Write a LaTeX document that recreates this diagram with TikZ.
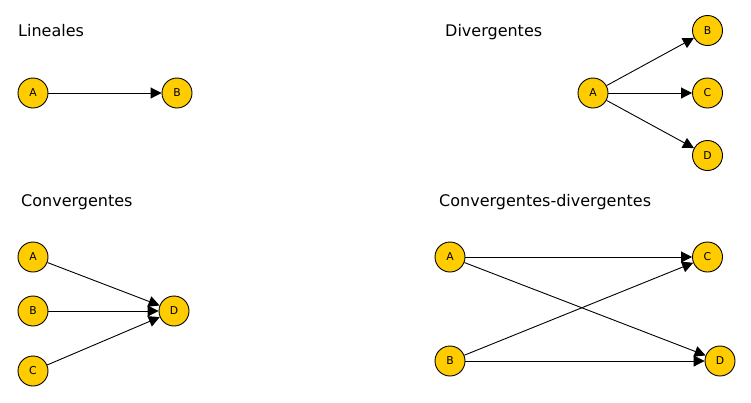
\documentclass[tikz,border=0pt]{standalone}
\usepackage{fontspec}
\setmainfont{DejaVu Sans}
\usetikzlibrary{arrows.meta}
\definecolor{nodeyellow}{RGB}{255,204,0}
\tikzset{
  vnode/.style={circle, draw=black, line width=0.9pt, fill=nodeyellow, minimum size=30pt, inner sep=0pt, font=\fontsize{10.8pt}{11pt}\selectfont},
  title/.style={anchor=base west, inner sep=0pt, font=\fontsize{16pt}{18pt}\selectfont},
  edge/.style={-{Triangle[length=11pt,width=11pt]}, line width=0.9pt}
}
\begin{document}
\begin{tikzpicture}[x=1pt,y=-1pt]
\useasboundingbox (0,0) rectangle (751,402);
% Lineales
\node[title] (t1) at (18,36) {Lineales};
\node[vnode] (la) at (33,93) {A};
\node[vnode] (lb) at (177,93) {B};
\draw[edge] (la) -- (lb);
% Divergentes
\node[title] (t2) at (445,36) {Divergentes};
\node[vnode] (da) at (593,93) {A};
\node[vnode] (db) at (707.5,30.5) {B};
\node[vnode] (dc) at (707.5,93) {C};
\node[vnode] (dd) at (707.5,155.5) {D};
\draw[edge] (da) -- (db);
\draw[edge] (da) -- (dc);
\draw[edge] (da) -- (dd);
% Convergentes
\node[title] (t3) at (21,206) {Convergentes};
\node[vnode] (ca) at (33,257) {A};
\node[vnode] (cb) at (33,311) {B};
\node[vnode] (cc) at (33,371) {C};
\node[vnode] (cd) at (174,311) {D};
\draw[edge] (ca) -- (cd);
\draw[edge] (cb) -- (cd);
\draw[edge] (cc) -- (cd);
% Convergentes-divergentes
\node[title] (t4) at (439,206) {Convergentes-divergentes};
\node[vnode] (xa) at (450,257) {A};
\node[vnode] (xb) at (450,361) {B};
\node[vnode] (xc) at (707.5,257) {C};
\node[vnode] (xd) at (720,361) {D};
\draw[edge] (xa) -- (xc);
\draw[edge] (xa) -- (xd);
\draw[edge] (xb) -- (xc);
\draw[edge] (xb) -- (xd);
\end{tikzpicture}
\end{document}
